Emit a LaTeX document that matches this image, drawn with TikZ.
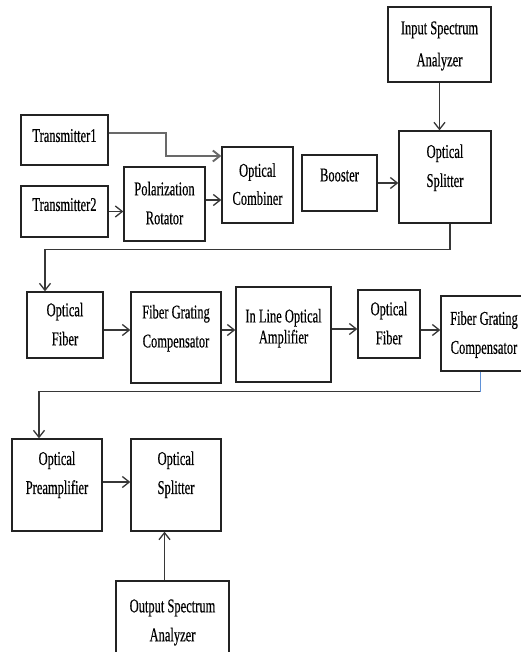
\documentclass[tikz,border=0pt]{standalone}
\usepackage{fontspec}
\setmainfont{Liberation Serif}[FakeStretch=0.64, FakeBold=0.4]
\usepackage{tikz}
\usetikzlibrary{arrows.meta}
\definecolor{boxline}{RGB}{35,35,35}
\definecolor{arrowline}{RGB}{55,55,55}
\definecolor{tracegrey}{RGB}{105,105,105}
\definecolor{traceblue}{RGB}{95,145,215}
\newcommand{\twoline}[1]{\begin{tabular}{@{}c@{}}#1\end{tabular}}

\begin{document}
\begin{tikzpicture}[x=1pt, y=-1pt, >={Straight Barb[length=7pt,width=11pt]},
  every node/.style={font=\fontsize{19.5}{29}\selectfont},
  block/.style={rectangle, draw=boxline, line width=1.3pt, inner sep=0pt},
  conn/.style={draw=arrowline, line width=1.3pt},
  connthick/.style={draw=tracegrey, line width=1.9pt},
  connblue/.style={draw=traceblue, line width=0.9pt}]
\useasboundingbox (0,0) rectangle (521,652);
\clip (0,0) rectangle (521,652);

% first row
\node (isa) [block, minimum width=103pt, minimum height=75pt] at (439.5,44.5) {\twoline{Input Spectrum\\[3pt]Analyzer}};
\node (splitA) [block, minimum width=92pt, minimum height=92pt, text depth=44.5pt] at (445,177) {\twoline{Optical\\Splitter}};
\node (tx1) [block, minimum width=87pt, minimum height=50pt, text depth=9pt] at (64.5,140) {Transmitter1};
\node (tx2) [block, minimum width=87pt, minimum height=51pt, text depth=14pt] at (64.5,211.5) {Transmitter2};
\node (rot) [block, minimum width=81pt, minimum height=74pt] at (164.5,204) {\twoline{Polarization\\Rotator}};
\node (comb) [block, minimum width=71pt, minimum height=76pt] at (257.5,185) {\twoline{Optical\\[-1pt]Combiner}};
\node (boost) [block, minimum width=75pt, minimum height=56pt, text depth=16pt] at (339.5,183) {Booster};

% second row
\node (fibA) [block, minimum width=76pt, minimum height=66pt] at (65,325) {\twoline{Optical\\Fiber}};
\node (fgcA) [block, minimum width=90pt, minimum height=91pt, text depth=44.5pt] at (176,337.5) {\twoline{Fiber Grating\\Compensator}};
\node (ila) [block, minimum width=95pt, minimum height=95pt, text depth=34.5pt] at (283.5,334.5) {\twoline{In Line Optical\\[-8pt]Amplifier}};
\node (fibB) [block, minimum width=62pt, minimum height=68pt] at (389,324) {\twoline{Optical\\Fiber}};
\node (fgcB) [block, minimum width=86pt, minimum height=75pt] at (484,333.5) {\twoline{Fiber Grating\\Compensator}};

% third row
\node (pre) [block, minimum width=90pt, minimum height=92pt, text depth=46.5pt] at (57,485) {\twoline{Optical\\Preamplifier}};
\node (splitB) [block, minimum width=90pt, minimum height=92pt, text depth=46.5pt] at (176,485) {\twoline{Optical\\Splitter}};
\node (osa) [block, minimum width=113pt, minimum height=80pt] at (172.5,621) {\twoline{Output Spectrum\\Analyzer}};

% links
\draw[conn, ->] (isa.south) -- (isa.south |- splitA.north);
\draw[connthick, ->] ([yshift=7pt]tx1.east) -- ++(57,0) |- ([yshift=29pt]comb.west);
\draw[conn, ->] (tx2.east) -- (tx2.east -| rot.west);
\draw[conn, ->] ([yshift=4pt]rot.east) -- ([yshift=4pt]rot.east -| comb.west);
\draw[conn, ->] (boost.east) -- (boost.east -| splitA.west);
\draw[conn, ->] ([xshift=5pt]splitA.south) -- ++(0,26) -| ([xshift=-20pt]fibA.north);
\draw[conn, ->] ([yshift=-5pt]fibA.east) -- ([yshift=-5pt]fibA.east -| fgcA.west);
\draw[conn, ->] ([yshift=7.5pt]fgcA.east) -- ([yshift=7.5pt]fgcA.east -| ila.west);
\draw[conn, ->] ([yshift=5.5pt]ila.east) -- ([yshift=5.5pt]ila.east -| fibB.west);
\draw[conn, ->] ([yshift=-6pt]fibB.east) -- ([yshift=-6pt]fibB.east -| fgcB.west);
\draw[connblue] ([xshift=-4pt]fgcB.south) -- ++(0,20) coordinate (bend);
\draw[conn, ->] (bend) -| ([xshift=-18pt]pre.north);
\draw[conn, ->] ([yshift=3pt]pre.east) -- ([yshift=3pt]pre.east -| splitB.west);
\draw[conn, ->] ([xshift=-8pt]osa.north) -- ([xshift=-8pt]osa.north |- splitB.south);
\end{tikzpicture}
\end{document}
